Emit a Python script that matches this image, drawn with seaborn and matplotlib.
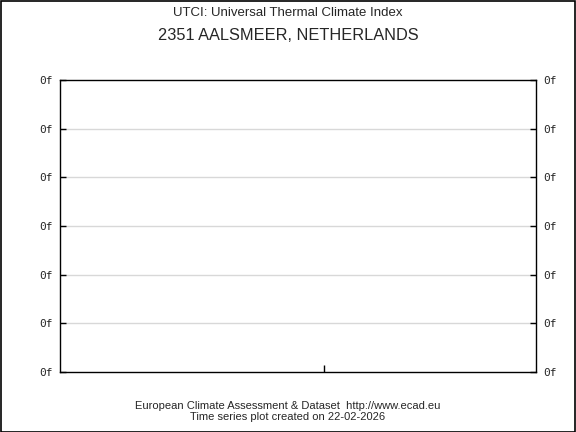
import matplotlib
matplotlib.use("Agg")
import matplotlib.pyplot as plt
import seaborn as sns
import pandas as pd

# Chart data (the series is empty in the reference)
title_top = "UTCI: Universal Thermal Climate Index"
title_station = "2351 AALSMEER, NETHERLANDS"
footer = "European Climate Assessment & Dataset  http://www.ecad.eu\nTime series plot created on 22-02-2026"
y_ticks = [0, 1, 2, 3, 4, 5, 6]
y_labels = ["0f"] * len(y_ticks)
x_ticks = [0.555]
dates = []
utci = []

sns.set_style("white")
plt.rcParams["font.family"] = ["Liberation Sans", "DejaVu Sans"]

fig = plt.figure(figsize=(5.76, 4.32), dpi=100)
ax = fig.add_axes([60 / 576, 1 - 372 / 432, 476 / 576, 292 / 432])

df = pd.DataFrame({"x": dates, "y": utci}, dtype=float)
sns.lineplot(data=df, x="x", y="y", ax=ax, color="red")

ax.set_xlim(0, 1)
ax.set_ylim(y_ticks[0], y_ticks[-1])
ax.set_yticks(y_ticks)
ax.set_yticklabels(y_labels, family="DejaVu Sans Mono", fontsize=8)
ax.set_xticks(x_ticks)
ax.set_xticklabels([])
ax.set_xlabel("")
ax.set_ylabel("")

ax.tick_params(axis="y", direction="in", length=4, width=1, color="black",
               left=True, right=True, labelleft=True, labelright=True, pad=5.5)
ax.tick_params(axis="x", direction="in", length=5, width=1, color="black", bottom=True)

for y in y_ticks[1:-1]:
    ax.axhline(y, color="#d8d8d8", lw=1, zorder=0)

for s in ax.spines.values():
    s.set_visible(True)
    s.set_color("black")
    s.set_linewidth(1)

fig.text(0.5, 1 - 13 / 432, title_top, ha="center", va="center", fontsize=9.5)
fig.text(0.5, 1 - 36 / 432, title_station, ha="center", va="center", fontsize=11.8)
fig.text(0.5, 1 - 411.5 / 432, footer, ha="center", va="center", fontsize=8,
         linespacing=1.15)

# outer border
fig.patches.append(plt.Rectangle((0.001, 0.001), 0.997, 0.996, transform=fig.transFigure,
                                 fill=False, edgecolor="black", lw=1.2))

fig.savefig("out.png", dpi=100)
